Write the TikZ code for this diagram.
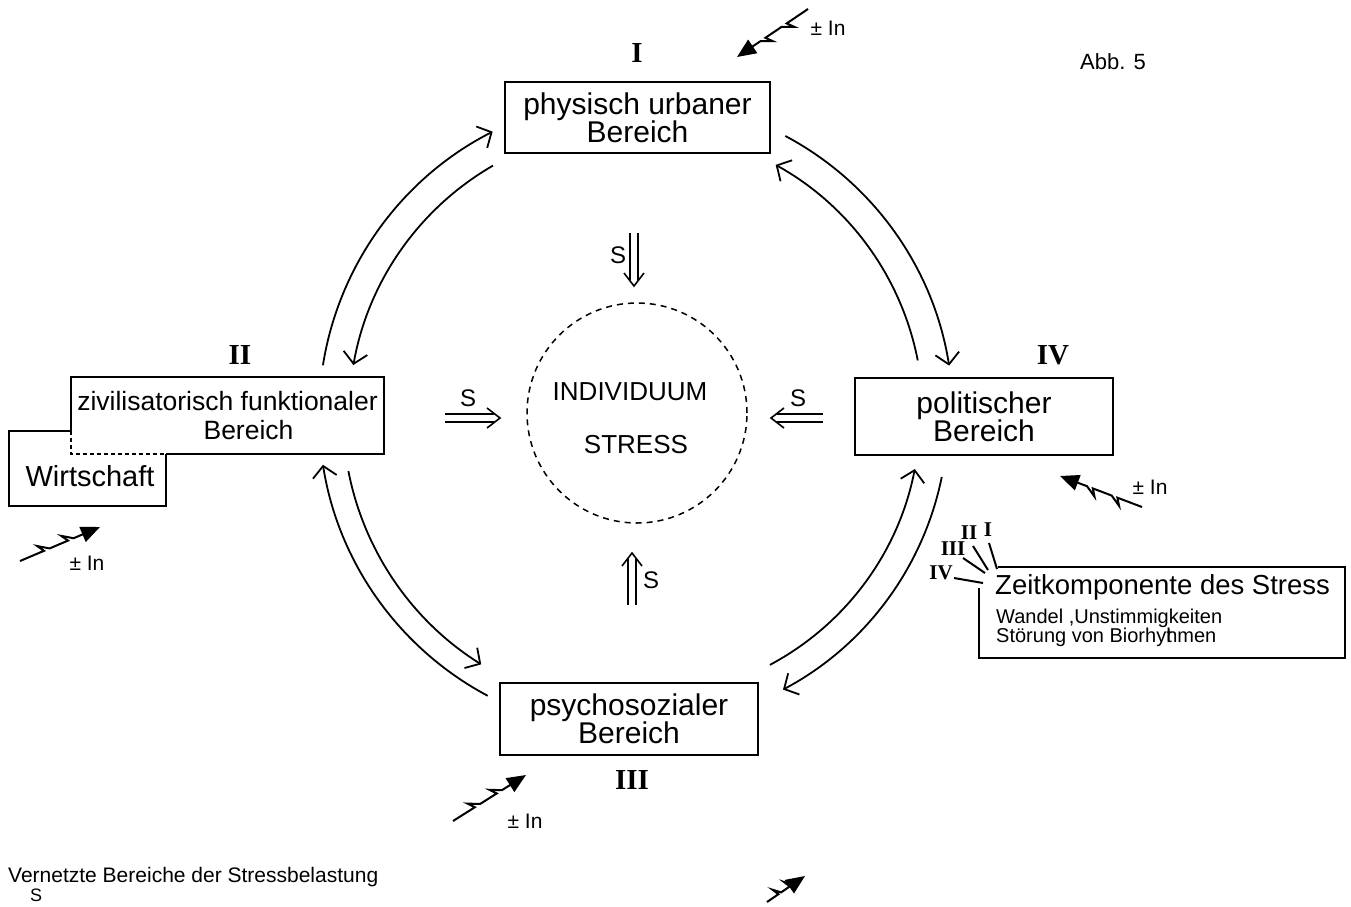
\documentclass[tikz,border=0pt]{standalone}
\usepackage{fontspec}
\setmainfont{Liberation Sans}
\newfontfamily\numfont{Liberation Serif}
\usetikzlibrary{arrows.meta,calc}
\newcommand\bolt[2]{%
  \draw[boltline] (#1) -- ($(#1)!0.30!(#2)$) -- ($(#1)!0.25!(#2)!7pt!90:(#2)$) -- ($(#1)!0.37!(#2)$)
     -- ($(#1)!0.60!(#2)$) -- ($(#1)!0.55!(#2)!7pt!90:(#2)$) -- ($(#1)!0.67!(#2)$) -- (#2);}
\newcommand\dblarrow[2]{%
  \draw[dline] ($(#1)!4pt!90:(#2)$) -- ($(#2)!6pt!(#1)!4pt!-90:(#1)$);
  \draw[dline] ($(#1)!4pt!-90:(#2)$) -- ($(#2)!6pt!(#1)!4pt!90:(#1)$);
  \draw[dline,line join=miter] ($(#2)!13pt!(#1)!10pt!90:(#1)$) -- (#2) -- ($(#2)!13pt!(#1)!10pt!-90:(#1)$);}
\begin{document}
\begin{tikzpicture}[x=1pt,y=-1pt,
  box/.style={line width=2.2pt,inner sep=0pt,align=center,font=\fontsize{30}{28}\selectfont},
  conn/.style={line width=1.8pt,-{Straight Barb[length=11pt,width=24pt,line width=1.8pt]}},
  dline/.style={line width=1.6pt},
  boltline/.style={line width=2pt,-{Triangle[length=19pt,width=16pt]}},
  num/.style={font=\numfont\bfseries\fontsize{29}{29}\selectfont},
  smallnum/.style={font=\numfont\bfseries\fontsize{21}{21}\selectfont,inner sep=0pt},
  lbl/.style={font=\fontsize{21}{21}\selectfont},
  slbl/.style={font=\fontsize{24}{24}\selectfont},
  thin/.style={line width=2pt}]
\useasboundingbox (0,0) rectangle (1351,906);
\fill[white] (0,0) rectangle (1351,906);

% boxes
\node[box,draw,minimum width=265pt,minimum height=71pt] (I) at (637.5,117.5) {physisch urbaner\\Bereich};
\node[box,minimum width=311pt,minimum height=75pt,font=\fontsize{26.5}{29}\selectfont] (II) at (227.5,415.5) {zivilisatorisch funktionaler\\\hspace*{42pt}Bereich};
\node[box,minimum width=155pt,minimum height=73pt] (W) at (87.5,468.5) {};
\node[font=\fontsize{29}{29}\selectfont] (Wt) at (90,476) {Wirtschaft};
\node[box,draw,minimum width=258pt,minimum height=72pt] (III) at (629,719) {psychosozialer\\Bereich};
\node[box,draw,minimum width=258pt,minimum height=77pt] (IV) at (984,416.5) {politischer\\Bereich};

% box II and Wirtschaft outlines
\draw[line width=2.2pt] (II.west |- W.north) -- (II.north west) -- (II.north east) -- (II.south east) -- (W.east |- II.south);
\draw[line width=2.2pt,dash pattern=on 4pt off 3pt] (II.west |- W.north) -- (II.south west) -- (W.east |- II.south);
\draw[line width=2.2pt] (II.west |- W.north) -- (W.north west) -- (W.south west) -- (W.south east) -- (W.east |- II.south);

% numerals
\node[num] (nI) at (637,53) {I};
\node[num] (nII) at (240,355) {II};
\node[num] (nIII) at (632,780) {III};
\node[num] (nIV) at (1053,355) {IV};

% centre
\node[draw,circle,minimum size=220pt,line width=1.5pt,dash pattern=on 6pt off 5pt] (ind) at (637,413) {};
\node[font=\fontsize{26}{26}\selectfont] (t1) at (630,392) {INDIVIDUUM};
\node[font=\fontsize{26}{26}\selectfont] (t2) at (636,445) {STRESS};

% arcs
\coordinate (C) at (637,415);
\draw[conn] ($(C)+(-171:318)$) arc[start angle=-171,end angle=-117,radius=318];
\draw[conn] ($(C)+(-120:288)$) arc[start angle=-120,end angle=-170,radius=288];
\draw[conn] ($(C)+(-62:316)$) arc[start angle=-62,end angle=-9,radius=316];
\draw[conn] ($(C)+(-11:286)$) arc[start angle=-11,end angle=-61,radius=286];
\draw[conn] ($(C)+(118:318)$) arc[start angle=118,end angle=171,radius=318];
\draw[conn] ($(C)+(169:294)$) arc[start angle=169,end angle=122,radius=294];
\draw[conn] ($(C)+(62:283)$) arc[start angle=62,end angle=11,radius=283];
\draw[conn] ($(C)+(11.5:311)$) arc[start angle=11.5,end angle=62,radius=311];

% S double arrows
\coordinate (sa0) at (634,233); \coordinate (sa1) at (634,286);
\dblarrow{sa0}{sa1}
\node[slbl] (sa) at (618,255) {S};
\coordinate (sb0) at (445,418); \coordinate (sb1) at (500,418);
\dblarrow{sb0}{sb1}
\node[slbl] (sb) at (468,398) {S};
\coordinate (sc0) at (823,418); \coordinate (sc1) at (771,418);
\dblarrow{sc0}{sc1}
\node[slbl] (sc) at (798,398) {S};
\coordinate (sd0) at (632,605); \coordinate (sd1) at (632,553);
\dblarrow{sd0}{sd1}
\node[slbl] (sd) at (651,580) {S};

% Zeit box
\coordinate (z1) at (998,567); \coordinate (z2) at (1345,567);
\coordinate (z3) at (1345,658); \coordinate (z4) at (979,658); \coordinate (z5) at (979,588);
\draw[line width=2pt] (z1) -- (z2) -- (z3) -- (z4) -- (z5);
\node[anchor=base west,inner sep=0pt,font=\fontsize{27.5}{27}\selectfont] (zt) at (995,594) {Zeitkomponente des Stress};
\node[anchor=base west,inner sep=0pt,font=\fontsize{20}{20}\selectfont] (zw) at (996,623) {Wandel ,Unstimmigkeiten};
\node[anchor=base west,inner sep=0pt,font=\fontsize{20}{20}\selectfont] (zs) at (996,642) {Störung von Biorhy\rlap{t}hmen};
\node[smallnum] (zI) at (988,530) {I};
\node[smallnum] (zII) at (969,533) {II};
\node[smallnum] (zIII) at (953,549) {III};
\node[smallnum] (zIV) at (941,573) {IV};
\coordinate (l1a) at (989,543); \coordinate (l1b) at (997,569);
\coordinate (l2a) at (973,546); \coordinate (l2b) at (988,570);
\coordinate (l3a) at (963,558); \coordinate (l3b) at (985,573);
\coordinate (l4a) at (954,578); \coordinate (l4b) at (983,583);
\draw[thin] (l1a) -- (l1b);
\draw[thin] (l2a) -- (l2b);
\draw[thin] (l3a) -- (l3b);
\draw[thin] (l4a) -- (l4b);

% lightning bolts
\coordinate (b1s) at (808,9); \coordinate (b1e) at (737,57);
\bolt{b1s}{b1e}
\node[lbl] (p1) at (828,28) {± In};
\coordinate (b2s) at (20,561); \coordinate (b2e) at (100,527);
\bolt{b2s}{b2e}
\node[lbl] (p2) at (87,563) {± In};
\coordinate (b3s) at (1142,507); \coordinate (b3e) at (1060,476);
\bolt{b3s}{b3e}
\node[lbl] (p3) at (1150,487) {± In};
\coordinate (b4s) at (453,821); \coordinate (b4e) at (526,775);
\bolt{b4s}{b4e}
\node[lbl] (p4) at (525,821) {± In};
\coordinate (b5s) at (767,902); \coordinate (b5e) at (805,876);
\bolt{b5s}{b5e}

% captions
\node[anchor=base west,inner sep=0pt,font=\fontsize{22}{22}\selectfont] (abb) at (1080,69) {Abb. 5};
\node[anchor=base west,inner sep=0pt,font=\fontsize{21}{20}\selectfont] (cap) at (8,882) {Vernetzte Bereiche der Stressbelastung};
\node[anchor=base west,inner sep=0pt,font=\fontsize{18}{18}\selectfont] (capS) at (30,901) {S};
\end{tikzpicture}
\end{document}
